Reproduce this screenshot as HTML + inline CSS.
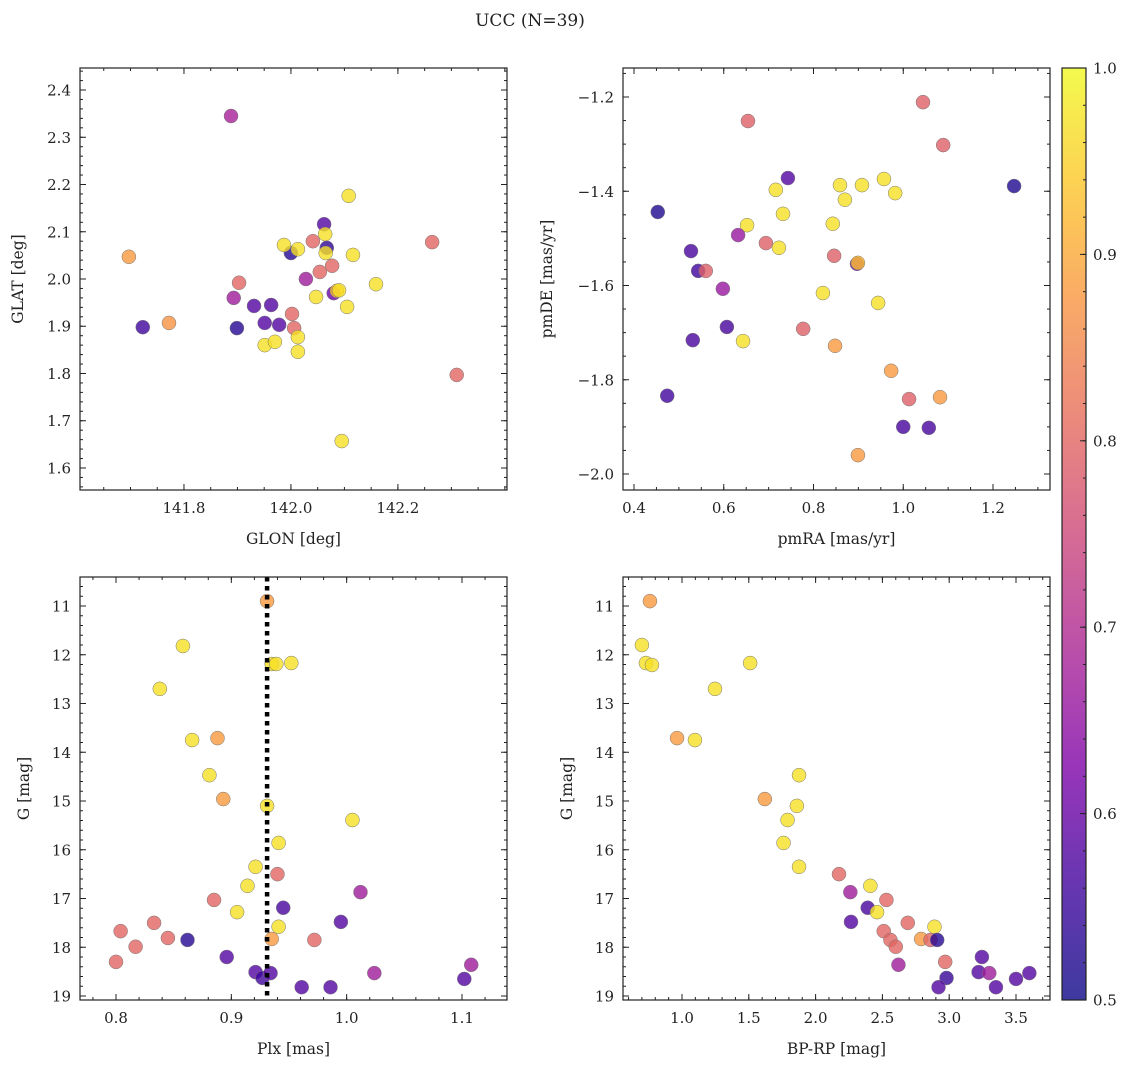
<!DOCTYPE html>
<html><head><meta charset="utf-8">
<style>
body{margin:0;background:#fff;}
svg text{font-family:"DejaVu Serif","Liberation Serif",serif;fill:#222;}
</style></head>
<body>
<svg id="chart" width="1136" height="1067" xmlns="http://www.w3.org/2000/svg">
<text x="530" y="26" font-size="17" text-anchor="middle">UCC (N=39)</text>
</svg>
<script>
// Panel 1: GLON / GLAT
const glon = [141.888,141.697,141.723,141.772,141.903,141.893,141.899,141.931,141.963,141.951,141.978,141.951,141.970,142.000,141.987,142.013,142.002,142.006,142.013,142.013,142.028,142.041,142.062,142.064,142.067,142.065,142.047,142.054,142.077,142.080,142.086,142.090,142.105,142.108,142.116,142.095,142.159,142.264,142.310];
const glat = [2.345,2.047,1.898,1.907,1.992,1.960,1.896,1.943,1.945,1.907,1.903,1.860,1.867,2.055,2.072,2.063,1.926,1.896,1.877,1.846,2.000,2.080,2.116,2.095,2.066,2.055,1.962,2.015,2.028,1.970,1.975,1.976,1.941,2.176,2.051,1.657,1.989,2.078,1.797];
const prob1 = [0.68,0.88,0.56,0.87,0.80,0.67,0.53,0.58,0.58,0.58,0.58,0.97,0.97,0.53,0.97,0.97,0.80,0.80,0.97,0.97,0.67,0.80,0.58,0.97,0.54,0.97,0.97,0.80,0.80,0.60,0.93,0.97,0.97,0.97,0.97,0.97,0.97,0.80,0.80];
// Panel 2: pmRA / pmDE
const pmra = [0.453,0.474,0.527,0.543,0.531,0.598,0.560,0.654,0.652,0.632,0.607,0.643,0.694,0.716,0.723,0.732,0.743,0.777,0.821,0.843,0.846,0.848,0.859,0.870,0.897,0.899,0.908,0.899,0.957,0.982,0.944,0.973,1.000,1.013,1.044,1.057,1.082,1.089,1.247];
const pmde = [-1.444,-1.834,-1.527,-1.569,-1.716,-1.607,-1.569,-1.251,-1.472,-1.493,-1.688,-1.718,-1.510,-1.397,-1.520,-1.448,-1.372,-1.692,-1.616,-1.469,-1.537,-1.728,-1.387,-1.418,-1.554,-1.552,-1.387,-1.960,-1.374,-1.404,-1.637,-1.781,-1.900,-1.841,-1.211,-1.902,-1.837,-1.302,-1.389];
const prob2 = [0.52,0.56,0.57,0.56,0.57,0.66,0.79,0.79,0.97,0.66,0.57,0.97,0.79,0.97,0.97,0.97,0.58,0.79,0.97,0.97,0.79,0.88,0.97,0.97,0.60,0.93,0.97,0.88,0.97,0.97,0.97,0.88,0.57,0.79,0.79,0.57,0.88,0.79,0.52];
// Panel 3: Plx / G
const plx = [0.931,0.858,0.838,0.935,0.939,0.952,0.866,0.888,0.881,0.893,0.931,1.005,0.941,0.921,0.940,0.914,0.885,0.905,1.012,0.945,0.941,0.833,0.804,0.845,0.817,0.862,0.935,0.972,0.995,0.896,0.800,0.921,0.927,0.934,0.961,0.986,1.024,1.108,1.102];
const gmag3 = [10.90,11.82,12.70,12.19,12.19,12.17,13.75,13.71,14.47,14.96,15.10,15.39,15.86,16.35,16.50,16.74,17.03,17.28,16.87,17.19,17.58,17.50,17.67,17.81,17.99,17.85,17.83,17.85,17.48,18.20,18.30,18.51,18.63,18.53,18.82,18.82,18.53,18.36,18.65];
const prob3 = [0.88,0.97,0.97,0.97,0.97,0.97,0.97,0.88,0.97,0.88,0.97,0.97,0.97,0.97,0.80,0.97,0.80,0.97,0.67,0.57,0.97,0.80,0.80,0.80,0.80,0.53,0.88,0.80,0.58,0.58,0.80,0.58,0.56,0.58,0.58,0.58,0.67,0.67,0.58];
const plxMean = [0.931];
// Panel 4: BP-RP / G
const bprp = [0.76,0.70,0.73,0.775,1.51,1.247,0.963,1.097,1.876,1.62,1.86,1.79,1.76,1.876,2.175,2.41,2.26,2.53,2.39,2.46,2.265,2.69,2.89,2.51,2.56,2.60,2.79,2.86,2.91,2.97,2.62,3.245,2.98,2.92,3.22,3.30,3.35,3.50,3.60];
const gmag4 = [10.90,11.80,12.17,12.21,12.17,12.70,13.71,13.75,14.47,14.96,15.10,15.39,15.86,16.35,16.50,16.74,16.87,17.03,17.19,17.28,17.48,17.50,17.58,17.67,17.85,17.99,17.83,17.85,17.85,18.30,18.36,18.20,18.63,18.82,18.51,18.53,18.82,18.65,18.53];
const prob4 = [0.88,0.97,0.97,0.97,0.97,0.97,0.88,0.97,0.97,0.88,0.97,0.97,0.97,0.97,0.80,0.97,0.67,0.80,0.57,0.97,0.58,0.80,0.97,0.80,0.80,0.80,0.88,0.80,0.53,0.80,0.67,0.58,0.55,0.58,0.58,0.67,0.58,0.58,0.58];
const cbTicks = [0.5,0.6,0.7,0.8,0.9,1.0];

const NS="http://www.w3.org/2000/svg";
const svg=document.getElementById('chart');
function mk(tag,attrs,parent){const e=document.createElementNS(NS,tag);for(const k in attrs)e.setAttribute(k,attrs[k]);(parent||svg).appendChild(e);return e;}
const stops=[[0,[13,8,135]],[0.125,[65,4,157]],[0.25,[126,3,168]],[0.375,[170,35,149]],[0.5,[204,71,120]],[0.625,[230,108,92]],[0.75,[248,149,64]],[0.875,[253,196,39]],[1,[240,249,33]]];
function plasma(v){let t=Math.max(0,Math.min(1,(v-0.5)/0.5));for(let i=0;i<stops.length-1;i++){const a=stops[i],b=stops[i+1];if(t<=b[0]){const f=(t-a[0])/(b[0]-a[0]);return 'rgb('+a[1].map((c,j)=>Math.round(c+(b[1][j]-c)*f)).join(',')+')';}}return 'rgb(240,249,33)';}
function fmt(v,d){const s=v.toFixed(d);return v<0?'\u2212'+s.slice(1):s;}

function panel(o){
  const g=mk('g',{});
  
  
  const sx=v=>o.x0+(v-o.xmin)/(o.xmax-o.xmin)*(o.x1-o.x0);
  const sy=v=>o.y1-(v-o.ymin)/(o.ymax-o.ymin)*(o.y1-o.y0);
  const pg=mk('g',{},g);
  
  
  for(let i=0;i<o.xs.length;i++){
    const c=mk('circle',{cx:sx(o.xs[i]),cy:sy(o.ys[i]),r:7,fill:plasma(o.cs[i]),'fill-opacity':0.8,stroke:'#777','stroke-width':0.5},pg);
    
    
  }
  if(o.vline!==undefined){
    const l=mk('line',{x1:sx(o.vline),x2:sx(o.vline),y1:o.y0,y2:o.y1,stroke:'#000','stroke-width':4.5,'stroke-dasharray':'4.5,4.5'},g);
    
    
  }
  const fr=mk('rect',{x:o.x0,y:o.y0,width:o.x1-o.x0,height:o.y1-o.y0,fill:'none',stroke:'#222','stroke-width':1.2},g);
  
  
  const tk=mk('g',{stroke:'#222','stroke-width':1},g);
  const n=(a,b,s)=>{const r=[];for(let v=Math.ceil(a/s-1e-6)*s;v<=b+1e-9;v+=s)r.push(v);return r;};
  n(o.xmin,o.xmax,o.xminor).forEach(v=>{const x=sx(v);mk('line',{x1:x,x2:x,y1:o.y1,y2:o.y1-3},tk);mk('line',{x1:x,x2:x,y1:o.y0,y2:o.y0+3},tk);});
  n(o.ymin,o.ymax,o.yminor).forEach(v=>{const y=sy(v);mk('line',{x1:o.x0,x2:o.x0+3,y1:y,y2:y},tk);mk('line',{x1:o.x1,x2:o.x1-3,y1:y,y2:y},tk);});
  o.xt.forEach(v=>{const x=sx(v);mk('line',{x1:x,x2:x,y1:o.y1,y2:o.y1-6},tk);mk('line',{x1:x,x2:x,y1:o.y0,y2:o.y0+6},tk);
    const t=mk('text',{x:x,y:o.y1+23,'font-size':15,'text-anchor':'middle'},g);t.textContent=o.xlab?o.xlab(v):fmt(v,o.xd);
    });
  o.yt.forEach(v=>{const y=sy(v);mk('line',{x1:o.x0,x2:o.x0+6,y1:y,y2:y},tk);mk('line',{x1:o.x1,x2:o.x1-6,y1:y,y2:y},tk);
    const t=mk('text',{x:o.x0-9,y:y+5.5,'font-size':15,'text-anchor':'end'},g);t.textContent=o.ylab?o.ylab(v):fmt(v,o.yd);
    });
  const xl=mk('text',{x:(o.x0+o.x1)/2,y:o.y1+54,'font-size':15.5,'text-anchor':'middle'},g);xl.textContent=o.xlabel;
  
  const yx=o.ylx,yy=(o.y0+o.y1)/2;
  const yl=mk('text',{x:yx,y:yy,'font-size':15.5,'text-anchor':'middle',transform:'rotate(-90 '+yx+' '+yy+')'},g);yl.textContent=o.ylabel;
  
}
const r=(a,b,s)=>{const o=[];for(let v=a;v<=b+1e-9;v+=s)o.push(+v.toFixed(4));return o;};
const gLab=v=>String(Math.round(-v));
panel({name:'glon-glat-panel',x0:80,x1:507,y0:68,y1:490,xmin:141.6056,xmax:142.404,ymin:1.5534,ymax:2.4466,xs:glon,ys:glat,cs:prob1,
  xt:[141.8,142.0,142.2],yt:r(1.6,2.4,0.1),xd:1,yd:1,xminor:0.05,yminor:0.02,xlabel:'GLON [deg]',ylabel:'GLAT [deg]',ylx:23});
panel({name:'proper-motion-panel',x0:623,x1:1050,y0:68,y1:490,xmin:0.4-11/448.75,xmax:1.2+57/448.75,ymin:-2.0-16/471.25,ymax:-1.2+29/471.25,xs:pmra,ys:pmde,cs:prob2,
  xt:r(0.4,1.2,0.2),yt:r(-2.0,-1.2,0.2),xd:1,yd:1,xminor:0.05,yminor:0.05,xlabel:'pmRA [mas/yr]',ylabel:'pmDE [mas/yr]',ylx:552});
const gTop=11-29/48.75, gBot=19+4/48.75;
panel({name:'parallax-panel',x0:80,x1:507,y0:577,y1:1000,xmin:0.8-36/1153,xmax:1.1+45/1153,ymin:-gBot,ymax:-gTop,xs:plx,ys:gmag3.map(v=>-v),cs:prob3,vline:plxMean[0],
  xt:[0.8,0.9,1.0,1.1],yt:r(-19,-11,1),xd:1,yd:0,ylab:gLab,xminor:0.02,yminor:0.2,xlabel:'Plx [mas]',ylabel:'G [mag]',ylx:29});
panel({name:'cmd-panel',x0:623,x1:1050,y0:577,y1:1000,xmin:1.0-59/133.6,xmax:3.5+34/133.6,ymin:-gBot,ymax:-gTop,xs:bprp,ys:gmag4.map(v=>-v),cs:prob4,
  xt:r(1.0,3.5,0.5),yt:r(-19,-11,1),xd:1,yd:0,ylab:gLab,xminor:0.1,yminor:0.2,xlabel:'BP-RP [mag]',ylabel:'G [mag]',ylx:572});

// colorbar
const cb=mk('g',{});


const cx0=1062,cx1=1086,cy0=68,cy1=1000;
const defs=mk('defs',{});
const lg=mk('linearGradient',{id:'plasmaGrad',x1:0,y1:1,x2:0,y2:0},defs);
for(let i=0;i<=20;i++){mk('stop',{offset:(i/20),'stop-color':plasma(0.5+0.5*i/20)},lg);}
mk('rect',{x:cx0,y:cy0,width:cx1-cx0,height:cy1-cy0,fill:'url(#plasmaGrad)','fill-opacity':0.8},cb);
mk('rect',{x:cx0,y:cy0,width:cx1-cx0,height:cy1-cy0,fill:'none',stroke:'#222','stroke-width':1.2},cb);
const csy=v=>cy1-(v-0.5)/0.5*(cy1-cy0);
for(let v=0.5;v<=1.0001;v+=0.02){mk('line',{x1:cx1,x2:cx1-3,y1:csy(v),y2:csy(v),stroke:'#222'},cb);}
cbTicks.forEach(v=>{mk('line',{x1:cx1,x2:cx1-6,y1:csy(v),y2:csy(v),stroke:'#222'},cb);
  const t=mk('text',{x:cx1+7,y:csy(v)+5.5,'font-size':15},cb);t.textContent=v.toFixed(1);
  });
</script>
</body></html>
